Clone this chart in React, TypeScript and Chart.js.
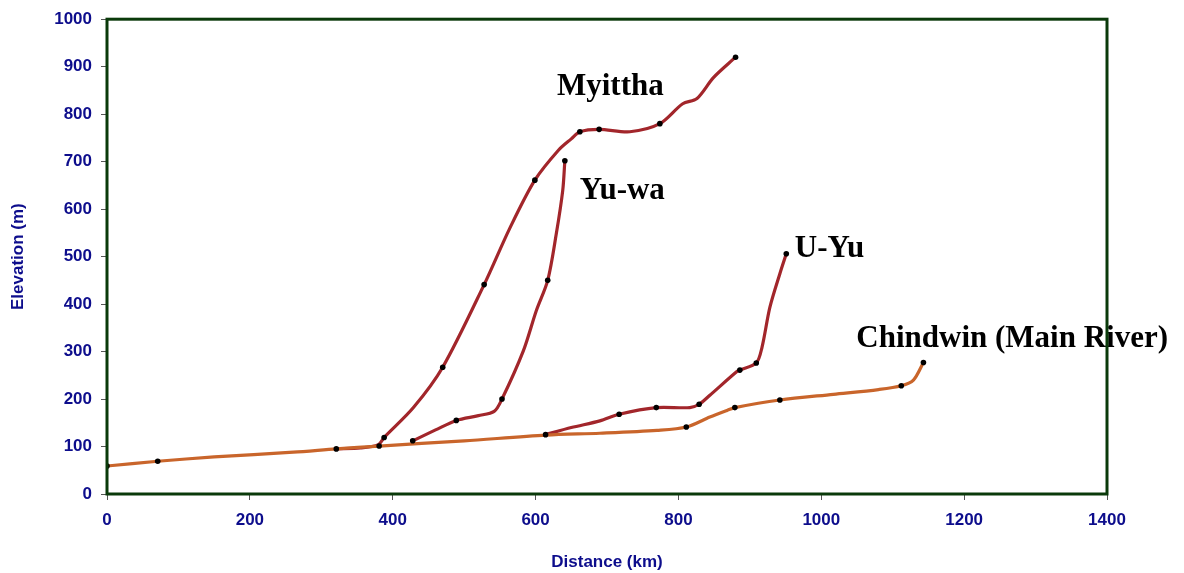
import React, { useEffect, useRef } from "react";
import { Chart, registerables } from "chart.js";

Chart.register(...registerables);

// Distance (km) / Elevation (m) traced along each river profile
const chindwinKm = [0, 71, 150, 261, 321, 381, 500, 615, 690, 770, 811, 844, 868, 879, 942, 1017, 1080, 1112, 1129, 1143];
const chindwinM = [59, 69, 78, 88, 95, 101, 112, 124, 128, 134, 141, 162, 176, 182, 198, 210, 220, 228, 240, 277];

const myitthaKm = [321, 355, 380, 388, 429, 470, 528, 564, 599, 632, 650, 662, 689, 732, 774, 806, 826, 849, 880];
const myitthaM = [95, 97, 104, 119, 182, 267, 441, 560, 661, 724, 748, 763, 768, 763, 780, 822, 833, 877, 920];

const yuwaKm = [428, 460, 489, 520, 542, 553, 583, 601, 617, 629, 638, 641];
const yuwaM = [112, 135, 155, 165, 174, 200, 302, 386, 450, 548, 639, 702];

const uyuKm = [614, 650, 690, 717, 769, 816, 829, 844, 881, 886, 909, 917, 928, 942, 951];
const uyuM = [125, 140, 154, 168, 182, 182, 189, 208, 257, 261, 276, 309, 393, 464, 506];

// Gauging stations (black dots)
const stationKm = [0, 71, 321, 381, 811, 879, 942, 1112, 1143, 388, 470, 528, 599, 662, 689, 774, 880, 428, 489, 553, 617, 641, 614, 717, 769, 829, 886, 909, 951];
const stationM = [59, 69, 95, 101, 141, 182, 198, 228, 277, 119, 267, 441, 661, 763, 768, 780, 920, 112, 155, 200, 450, 702, 125, 168, 182, 189, 261, 276, 506];

// River name labels (anchor in data units: km, m)
const labelText = ["Myittha", "Yu-wa", "U-Yu", "Chindwin (Main River)"];
const labelKm = [630, 662, 963, 1049];
const labelM = [840, 622, 500, 309];

const xTicks = [0, 200, 400, 600, 800, 1000, 1200, 1400];
const yTicks = [0, 100, 200, 300, 400, 500, 600, 700, 800, 900, 1000];

const zip = (xs: number[], ys: number[]) => xs.map((x, i) => ({ x, y: ys[i] }));

const NAVY = "#0d0d8c";
const TRIB = "#a2262b";
const MAIN = "#c9652b";
const AXIS_FONT = { family: '"Liberation Sans", Arial, sans-serif', size: 17, weight: "bold" };

export default function App() {
  const ref = useRef<HTMLCanvasElement | null>(null);

  useEffect(() => {
    document.body.style.margin = "0";
    const canvas = ref.current;
    if (!canvas) return;

    const labelsPlugin = {
      id: "riverLabels",
      afterDatasetsDraw(chart: any) {
        const { ctx, scales } = chart;
        ctx.save();
        ctx.fillStyle = "#000";
        ctx.font = 'bold 31px "Liberation Serif", "Times New Roman", serif';
        ctx.textAlign = "left";
        ctx.textBaseline = "alphabetic";
        labelText.forEach((t, i) => {
          ctx.fillText(t, scales.x.getPixelForValue(labelKm[i]), scales.y.getPixelForValue(labelM[i]));
        });
        ctx.restore();
      },
      afterDraw(chart: any) {
        const { ctx, chartArea: a } = chart;
        ctx.save();
        ctx.strokeStyle = "#0a3a0a";
        ctx.lineWidth = 3;
        ctx.strokeRect(a.left, a.top, a.right - a.left, a.bottom - a.top);
        ctx.restore();
      },
    };

    const lineDs = (data: any[], color: string) => ({
      data,
      showLine: true,
      borderColor: color,
      backgroundColor: color,
      borderWidth: 3.2,
      pointRadius: 0,
      pointHoverRadius: 0,
      tension: 0.3,
      fill: false,
    });

    const chart = new Chart(canvas, {
      type: "scatter",
      data: {
        datasets: [
          {
            data: zip(stationKm, stationM),
            showLine: false,
            pointRadius: 2.8,
            pointHoverRadius: 2.8,
            pointBorderWidth: 0,
            backgroundColor: "#000",
            borderColor: "#000",
          } as any,
          lineDs(zip(chindwinKm, chindwinM), MAIN),
          lineDs(zip(myitthaKm, myitthaM), TRIB),
          lineDs(zip(yuwaKm, yuwaM), TRIB),
          lineDs(zip(uyuKm, uyuM), TRIB),
        ],
      },
      options: {
        responsive: false,
        animation: false,
        layout: { padding: { top: 18, right: 77, left: 0, bottom: 0 } },
        plugins: { legend: { display: false }, tooltip: { enabled: false } },
        scales: {
          x: {
            type: "linear",
            min: 0,
            max: 1400,
            afterBuildTicks: (s: any) => {
              s.ticks = xTicks.map((v) => ({ value: v }));
            },
            afterFit: (s: any) => {
              s.height = 79;
            },
            border: { display: false },
            grid: { drawOnChartArea: false, drawTicks: true, tickLength: 6, tickColor: "#555", tickWidth: 1 },
            ticks: {
              color: NAVY,
              padding: 10,
              font: AXIS_FONT,
              callback: (v: any) => String(v),
            },
            title: {
              display: true,
              text: "Distance (km)",
              color: NAVY,
              padding: { top: 0, bottom: 0 },
              font: AXIS_FONT,
            },
          },
          y: {
            type: "linear",
            min: 0,
            max: 1000,
            afterBuildTicks: (s: any) => {
              s.ticks = yTicks.map((v) => ({ value: v }));
            },
            afterFit: (s: any) => {
              s.width = 107;
            },
            border: { display: false },
            grid: { drawOnChartArea: false, drawTicks: true, tickLength: 6, tickColor: "#555", tickWidth: 1 },
            ticks: {
              color: NAVY,
              padding: 9,
              font: AXIS_FONT,
              callback: (v: any) => String(v),
            },
            title: {
              display: true,
              text: "Elevation (m)",
              color: NAVY,
              padding: { top: 8, bottom: 0 },
              font: AXIS_FONT,
            },
          },
        },
      } as any,
      plugins: [labelsPlugin],
    });

    return () => chart.destroy();
  }, []);

  return (
    <div style={{ width: 1184, height: 573, background: "#fff" }}>
      <canvas ref={ref} width={1184} height={573} style={{ display: "block" }} />
    </div>
  );
}
